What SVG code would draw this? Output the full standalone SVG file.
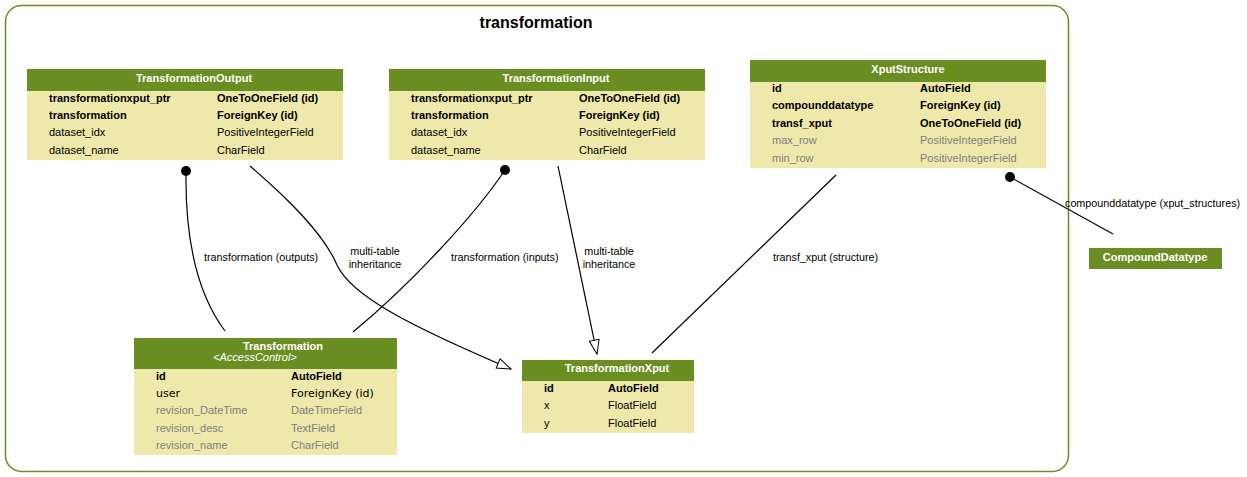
<svg xmlns="http://www.w3.org/2000/svg" width="1247" height="477" viewBox="0 0 1247 477">
<style>
text{font-family:"Liberation Sans",Arial,sans-serif;font-size:11px;fill:#000}
.hdr{fill:#6b8e23}
.body{fill:#eee8aa}
.ht{fill:#fff;font-weight:bold;text-anchor:middle}
.b{font-weight:bold}
.g{fill:#7f7f7f}
.dv{font-family:"DejaVu Sans",sans-serif;font-size:11px}
.lbl{font-size:10.75px}
.c{fill:none;stroke:#000;stroke-width:1.2}
</style>
<defs>
<marker id="dot" viewBox="0 0 10 10" refX="5" refY="5" markerWidth="10" markerHeight="10" markerUnits="userSpaceOnUse"><circle cx="5" cy="5" r="5" fill="#000"/></marker>
<marker id="tri" viewBox="0 0 16 12" refX="15" refY="6" markerWidth="16" markerHeight="12" markerUnits="userSpaceOnUse" orient="auto"><path d="M1,1 L15,6 L1,11 Z" fill="#fff" stroke="#000" stroke-width="1"/></marker>
</defs>
<g id="cluster">
<rect x="5.5" y="5.5" width="1063" height="466" rx="16" fill="none" stroke="#6b8e23" stroke-width="1.5"/>
<text x="536" y="28" text-anchor="middle" style="font-size:16px;font-weight:bold">transformation</text>
</g>
<g id="connectors">
<path class="c" d="M186,171 C185,240 198,295 225,331" marker-start="url(#dot)"/>
<text class="lbl" x="204" y="261">transformation (outputs)</text>
<path class="c" d="M250,166 C285,196 323,232 337,265 C352,298 420,330 511,369" marker-end="url(#tri)"/>
<text class="lbl" x="375" y="255" text-anchor="middle">multi-table</text>
<text class="lbl" x="375" y="268" text-anchor="middle">inheritance</text>
<path class="c" d="M505,170 C475,215 410,285 353,332" marker-start="url(#dot)"/>
<text class="lbl" x="451" y="261">transformation (inputs)</text>
<path class="c" d="M558,166 L597,354" marker-end="url(#tri)"/>
<text class="lbl" x="609" y="255" text-anchor="middle">multi-table</text>
<text class="lbl" x="609" y="268" text-anchor="middle">inheritance</text>
<path class="c" d="M836,175 L652,353"/>
<text class="lbl" x="773" y="261">transf_xput (structure)</text>
<path class="c" d="M1010,177 L1113,234" marker-start="url(#dot)"/>
<text class="lbl" x="1065" y="207">compounddatatype (xput_structures)</text>
</g>
<g id="TransformationOutput">
<rect class="hdr" x="27" y="69" width="316" height="22"/>
<rect class="body" x="27" y="91" width="316" height="69"/>
<text class="ht" x="194" y="82">TransformationOutput</text>
<text class="b" x="49" y="102">transformationxput_ptr</text><text class="b" x="217" y="102">OneToOneField (id)</text>
<text class="b" x="49" y="119">transformation</text><text class="b" x="217" y="119">ForeignKey (id)</text>
<text x="49" y="136">dataset_idx</text><text x="217" y="136">PositiveIntegerField</text>
<text x="49" y="154">dataset_name</text><text x="217" y="154">CharField</text>
</g>
<g id="TransformationInput">
<rect class="hdr" x="389" y="69" width="316" height="22"/>
<rect class="body" x="389" y="91" width="316" height="69"/>
<text class="ht" x="556" y="82">TransformationInput</text>
<text class="b" x="411" y="102">transformationxput_ptr</text><text class="b" x="579" y="102">OneToOneField (id)</text>
<text class="b" x="411" y="119">transformation</text><text class="b" x="579" y="119">ForeignKey (id)</text>
<text x="411" y="136">dataset_idx</text><text x="579" y="136">PositiveIntegerField</text>
<text x="411" y="154">dataset_name</text><text x="579" y="154">CharField</text>
</g>
<g id="XputStructure">
<rect class="hdr" x="750" y="60" width="296" height="22"/>
<rect class="body" x="750" y="82" width="296" height="86"/>
<text class="ht" x="908" y="73">XputStructure</text>
<text class="b" x="772" y="92">id</text><text class="b" x="920" y="92">AutoField</text>
<text class="b" x="772" y="109">compounddatatype</text><text class="b" x="920" y="109">ForeignKey (id)</text>
<text class="b" x="772" y="127">transf_xput</text><text class="b" x="920" y="127">OneToOneField (id)</text>
<text class="g" x="772" y="144">max_row</text><text class="g" x="920" y="144">PositiveIntegerField</text>
<text class="g" x="772" y="162">min_row</text><text class="g" x="920" y="162">PositiveIntegerField</text>
</g>
<g id="Transformation">
<rect class="hdr" x="134" y="338" width="263" height="31"/>
<rect class="body" x="134" y="369" width="263" height="86"/>
<text class="ht" x="283" y="350">Transformation</text>
<text x="213" y="361" style="fill:#fff;font-style:italic">&lt;AccessControl&gt;</text>
<text class="b" x="156" y="380">id</text><text class="b" x="291" y="380">AutoField</text>
<text class="dv" x="156" y="397">user</text><text class="dv" x="291" y="397">ForeignKey (id)</text>
<text class="g" x="156" y="414">revision_DateTime</text><text class="g" x="291" y="414">DateTimeField</text>
<text class="g" x="156" y="432">revision_desc</text><text class="g" x="291" y="432">TextField</text>
<text class="g" x="156" y="449">revision_name</text><text class="g" x="291" y="449">CharField</text>
</g>
<g id="TransformationXput">
<rect class="hdr" x="522" y="360" width="172" height="21"/>
<rect class="body" x="522" y="381" width="172" height="52"/>
<text class="ht" x="617" y="372">TransformationXput</text>
<text class="b" x="544" y="392">id</text><text class="b" x="608" y="392">AutoField</text>
<text x="544" y="409">x</text><text x="608" y="409">FloatField</text>
<text x="544" y="427">y</text><text x="608" y="427">FloatField</text>
</g>
<g id="CompoundDatatype">
<rect class="hdr" x="1089" y="248" width="133" height="21"/>
<text class="ht" x="1155" y="261">CompoundDatatype</text>
</g>
</svg>
